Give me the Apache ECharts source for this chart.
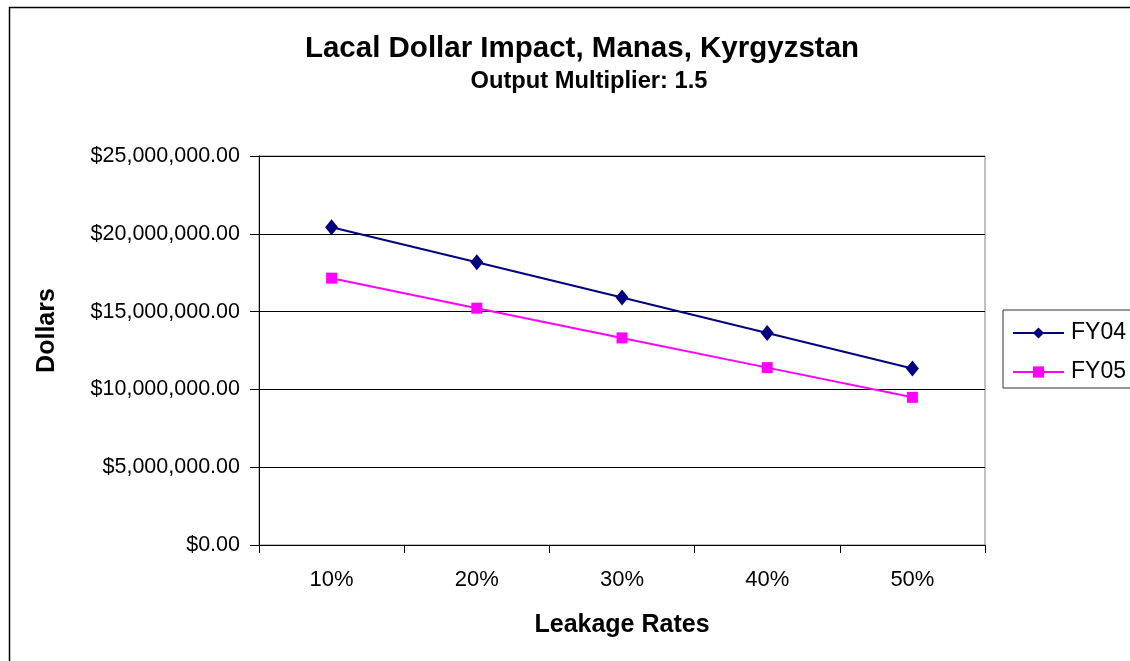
<!DOCTYPE html>
<html>
<head>
<meta charset="utf-8">
<script src="https://cdn.jsdelivr.net/npm/echarts@6/dist/echarts.min.js"></script>
<style>
html,body{margin:0;padding:0;background:#fff;}
#c{width:1130px;height:661px;}
</style>
</head>
<body>
<div id="c"></div>
<script>
var categories = ['10%', '20%', '30%', '40%', '50%'];
var fy04 = [20420000, 18170000, 15900000, 13630000, 11340000];
var fy05 = [17150000, 15220000, 13310000, 11400000, 9490000];
var seriesNames = ['FY04', 'FY05'];

var chart = echarts.init(document.getElementById('c'), null, {renderer: 'canvas'});
function fmt(v) {
  return '$' + Number(v).toLocaleString('en-US', {minimumFractionDigits: 2, maximumFractionDigits: 2});
}
var font = 'Liberation Sans, Arial, sans-serif';
chart.setOption({
  backgroundColor: '#fff',
  animation: false,
  textStyle: {fontFamily: font},
  graphic: [{
    type: 'rect', left: 7, top: 5, shape: {width: 1200, height: 700},
    style: {fill: 'none', stroke: '#000', lineWidth: 1.5}, silent: true, z: -1
  }],
  title: [{
    text: 'Lacal Dollar Impact, Manas, Kyrgyzstan',
    left: 577, top: 29, textAlign: 'center',
    padding: 5,
    textStyle: {fontFamily: font, fontSize: 29.5, fontWeight: 'bold', color: '#000'}
  }, {
    text: 'Output Multiplier: 1.5',
    left: 584, top: 64, textAlign: 'center',
    padding: 5,
    textStyle: {fontFamily: font, fontSize: 23.7, fontWeight: 'bold', color: '#000'}
  }],
  legend: {
    data: seriesNames,
    orient: 'vertical',
    left: 1003, top: 310,
    padding: [10, 40, 3, 9],
    itemGap: 13,
    itemWidth: 51, itemHeight: 14,
    borderColor: '#333', borderWidth: 1,
    textStyle: {fontFamily: font, fontSize: 23, lineHeight: 26, color: '#000', padding: [0, 0, 0, 2]}
  },
  grid: {left: 259, right: 145, top: 156, bottom: 116, show: true, borderColor: '#808080', borderWidth: 1},
  xAxis: {
    type: 'category',
    data: categories,
    boundaryGap: true,
    name: 'Leakage Rates',
    nameLocation: 'middle',
    nameGap: 68,
    nameTextStyle: {fontFamily: font, fontSize: 25, fontWeight: 'bold', color: '#000'},
    axisLine: {lineStyle: {color: '#000', width: 1}},
    axisTick: {show: true, length: 8, lineStyle: {color: '#000'}},
    axisLabel: {fontFamily: font, fontSize: 22, color: '#000', margin: 24},
    splitLine: {show: false}
  },
  yAxis: {
    type: 'value',
    min: 0, max: 25000000, interval: 5000000,
    name: 'Dollars',
    nameLocation: 'middle',
    nameGap: 199,
    nameRotate: 90,
    nameTextStyle: {fontFamily: font, fontSize: 25, fontWeight: 'bold', color: '#000', padding: [0, 0, 0, 40]},
    axisLine: {show: true, lineStyle: {color: '#000', width: 1}},
    axisTick: {show: true, length: 9, lineStyle: {color: '#000'}},
    axisLabel: {fontFamily: font, fontSize: 21.5, color: '#000', margin: 19, formatter: fmt},
    splitLine: {show: true, lineStyle: {color: '#000', width: 1}}
  },
  series: [{
    name: seriesNames[0], type: 'line', data: fy04,
    symbol: 'diamond', symbolSize: [13, 16],
    lineStyle: {color: '#000080', width: 2},
    itemStyle: {color: '#000080'}
  }, {
    name: seriesNames[1], type: 'line', data: fy05,
    symbol: 'rect', symbolSize: [11, 11],
    lineStyle: {color: '#FF00FF', width: 2},
    itemStyle: {color: '#FF00FF'}
  }]
});
</script>
</body>
</html>
